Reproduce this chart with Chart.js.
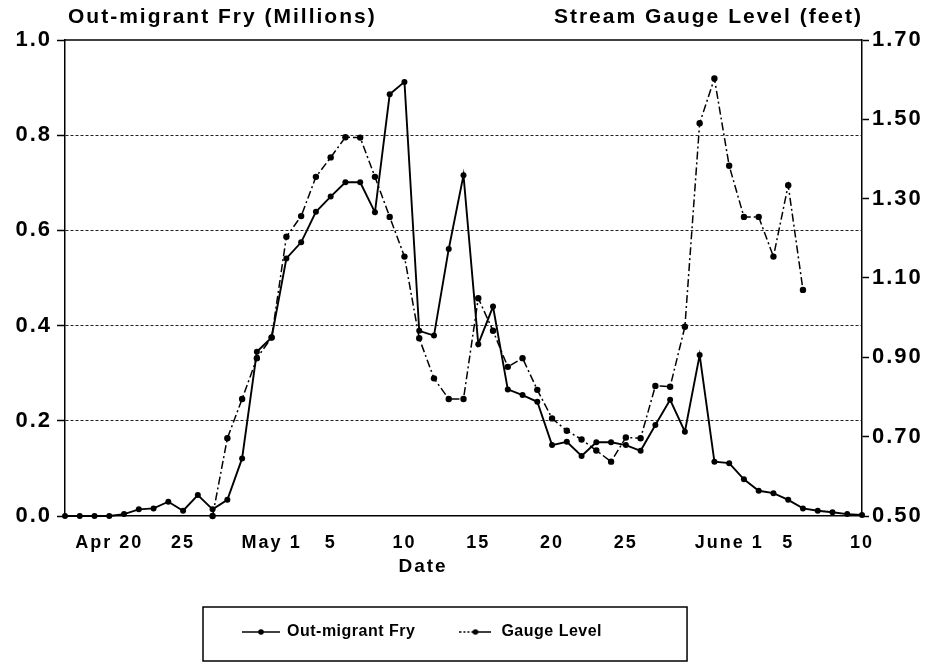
<!DOCTYPE html>
<html lang="en">
<head>
<meta charset="UTF-8">
<title>Out-migrant Fry and Stream Gauge Level</title>
<script src="https://cdn.jsdelivr.net/npm/chart.js@4"></script>
<style>
    html, body { margin: 0; padding: 0; background: #fff; }
</style>
</head>
<body>
<canvas id="grafico" width="939" height="664"></canvas>
<script>
// one point per day, Apr 17 to June 10
const dias = [
    'Apr 17', 'Apr 18', 'Apr 19', 'Apr 20', 'Apr 21', 'Apr 22', 'Apr 23', 'Apr 24', 'Apr 25', 'Apr 26',
    'Apr 27', 'Apr 28', 'Apr 29', 'Apr 30', 'May 1', 'May 2', 'May 3', 'May 4', 'May 5', 'May 6',
    'May 7', 'May 8', 'May 9', 'May 10', 'May 11', 'May 12', 'May 13', 'May 14', 'May 15', 'May 16',
    'May 17', 'May 18', 'May 19', 'May 20', 'May 21', 'May 22', 'May 23', 'May 24', 'May 25', 'May 26',
    'May 27', 'May 28', 'May 29', 'May 30', 'May 31', 'June 1', 'June 2', 'June 3', 'June 4', 'June 5',
    'June 6', 'June 7', 'June 8', 'June 9', 'June 10'
];

// which days get a label on the axis, and what it says
const rotulosDatas = ['Apr 20', 'Apr 25', 'May 1', 'May 5', 'May 10', 'May 15', 'May 20', 'May 25', 'June 1', 'June 5', 'June 10'];
const rotulosTexto = ['Apr 20', '25', 'May 1', '5', '10', '15', '20', '25', 'June 1', '5', '10'];

// out-migrant fry (millions)
const alevinos = [
    0, 0, 0, 0, 0.004, 0.014, 0.016, 0.030, 0.011, 0.044,
    0.014, 0.034, 0.121, 0.345, 0.375, 0.541, 0.575, 0.639, 0.671, 0.701,
    0.701, 0.638, 0.886, 0.912, 0.389, 0.379, 0.561, 0.716, 0.361, 0.440,
    0.266, 0.254, 0.240, 0.149, 0.156, 0.126, 0.155, 0.155, 0.149, 0.137,
    0.191, 0.244, 0.177, 0.338, 0.114, 0.111, 0.077, 0.053, 0.048, 0.034,
    0.016, 0.011, 0.008, 0.004, 0.002
];

// stream gauge level (feet), no readings before Apr 27 or after June 6
const nivel = [
    null, null, null, null, null, null, null, null, null, null,
    0.50, 0.696, 0.795, 0.898, 0.95, 1.204, 1.256, 1.355, 1.404, 1.455,
    1.454, 1.355, 1.254, 1.154, 0.948, 0.847, 0.795, 0.795, 1.049, 0.967,
    0.876, 0.898, 0.818, 0.746, 0.715, 0.693, 0.665, 0.637, 0.698, 0.696,
    0.828, 0.826, 0.977, 1.490, 1.603, 1.383, 1.254, 1.254, 1.154, 1.334,
    1.070, null, null, null, null
];

const fonte = '"Liberation Sans", Arial, sans-serif';
Chart.defaults.font.family = fonte;
Chart.defaults.font.weight = 'bold';
Chart.defaults.color = '#000';

// little line+dot samples for the legend
function amostra(tracejado, largura) {
    const c = document.createElement('canvas');
    c.width = largura; c.height = 8;
    const g = c.getContext('2d');
    g.strokeStyle = '#000';
    g.lineWidth = 1.6;
    g.setLineDash(tracejado);
    g.beginPath(); g.moveTo(0, 4); g.lineTo(largura, 4); g.stroke();
    g.setLineDash([]);
    g.fillStyle = '#000';
    g.beginPath(); g.arc(largura / 2, 4, 2.8, 0, Math.PI * 2); g.fill();
    return c;
}
const amostras = [amostra([], 38), amostra([2, 2, 2, 2, 2, 2, 30], 32)];

// titles, top frame line, legend box
const moldura = {
    id: 'moldura',
    afterInit(chart) {
        // legend text is set tighter than the axis text
        const lg = chart.legend;
        ['fit', 'draw'].forEach(nome => {
            const orig = lg[nome].bind(lg);
            lg[nome] = function (...args) {
                const ctx = chart.ctx;
                const antes = ctx.letterSpacing;
                ctx.letterSpacing = '0.5px';
                const r = orig(...args);
                ctx.letterSpacing = antes;
                return r;
            };
        });
    },
    beforeLayout(chart) { chart.ctx.letterSpacing = '2px'; },
    beforeDraw(chart) { chart.ctx.letterSpacing = '2px'; },
    afterLayout(chart) {
        const lg = chart.legend;
        const pad = lg.options.labels.padding;
        const x0 = (lg.left + pad + lg.right - lg.lineWidths[0]) / 2;
        const dx = 243 - x0;
        lg.left += dx; lg.right += dx;
        const dy = 624 - (lg.top + pad);
        lg.top += dy; lg.bottom += dy;
    },
    beforeDatasetsDraw(chart) {
        const { ctx, chartArea: a } = chart;
        ctx.save();
        ctx.strokeStyle = '#000';
        ctx.lineWidth = 1.5;
        ctx.beginPath(); ctx.moveTo(a.left, a.top); ctx.lineTo(a.right, a.top); ctx.stroke();
        ctx.restore();
    },
    afterDraw(chart) {
        const ctx = chart.ctx;
        ctx.save();
        ctx.fillStyle = '#000';
        ctx.textBaseline = 'middle';
        ctx.letterSpacing = '2px';
        ctx.font = 'bold 21px ' + fonte;
        ctx.textAlign = 'left';
        ctx.fillText('Out-migrant Fry (Millions)', 68, 17);
        ctx.textAlign = 'right';
        ctx.fillText('Stream Gauge Level (feet)', 863, 17);
        ctx.font = 'bold 19px ' + fonte;
        ctx.textAlign = 'center';
        ctx.fillText('Date', 423, 567);

        const hb = chart.legend.legendHitBoxes;
        const l = hb[0].left - 40;
        const r = hb[1].left + hb[1].width + 85;
        ctx.strokeStyle = '#000';
        ctx.lineWidth = 1.5;
        ctx.strokeRect(l, 607, r - l, 54);
        ctx.restore();
    }
};

new Chart(document.getElementById('grafico'), {
    type: 'line',
    data: {
        labels: dias,
        datasets: [{
            label: 'Out-migrant Fry',
            data: alevinos,
            yAxisID: 'y',
            borderColor: '#000',
            backgroundColor: '#000',
            borderWidth: 1.9,
            pointRadius: 3,
            pointBorderWidth: 0,
            pointBackgroundColor: '#000',
            clip: false
        }, {
            label: 'Gauge Level',
            data: nivel,
            yAxisID: 'y2',
            borderColor: '#000',
            backgroundColor: '#000',
            borderWidth: 1.5,
            borderDash: [8, 3, 2, 3],
            pointRadius: 3.2,
            pointBorderWidth: 0,
            pointBackgroundColor: '#000',
            spanGaps: false,
            clip: false
        }]
    },
    options: {
        responsive: false,
        animation: false,
        layout: { padding: { top: 40, left: 0, right: 0, bottom: 0 } },
        plugins: {
            tooltip: { enabled: false },
            legend: {
                position: 'bottom',
                labels: {
                    usePointStyle: true,
                    pointStyleWidth: 36,
                    padding: 42,
                    font: { size: 16, weight: 'bold' },
                    generateLabels(chart) {
                        const itens = Chart.defaults.plugins.legend.labels.generateLabels(chart);
                        itens.forEach((it, i) => { it.pointStyle = amostras[i]; });
                        return itens;
                    }
                }
            }
        },
        scales: {
            x: {
                afterFit: s => { s.height = 664 - 516 - s.chart.legend.height; },
                grid: { drawOnChartArea: false, drawTicks: false },
                border: { color: '#000', width: 1.5 },
                ticks: {
                    autoSkip: false,
                    maxRotation: 0,
                    padding: 16,
                    font: { size: 18 },
                    callback: (v, i) => {
                        const k = rotulosDatas.indexOf(dias[i]);
                        return k >= 0 ? rotulosTexto[k] : '';
                    }
                }
            },
            y: {
                position: 'left',
                min: 0,
                max: 1,
                afterFit: s => { s.width = 65; },
                border: { color: '#000', width: 1.5, dash: [3, 2] },
                grid: {
                    color: c => (c.tick && c.tick.value > 0.01 && c.tick.value < 0.99) ? '#222' : 'rgba(0,0,0,0)',
                    lineWidth: 1,
                    tickColor: '#000',
                    tickWidth: 1.5,
                    tickLength: 8,
                    tickBorderDash: []
                },
                ticks: { stepSize: 0.2, padding: 5, font: { size: 22 }, callback: v => v.toFixed(1) }
            },
            y2: {
                position: 'right',
                min: 0.5,
                max: 1.7,
                afterFit: s => { s.width = 77; },
                border: { color: '#000', width: 1.5 },
                grid: { drawOnChartArea: false, tickColor: '#000', tickWidth: 1.5, tickLength: 7 },
                ticks: { stepSize: 0.2, padding: 3, font: { size: 22 }, callback: v => v.toFixed(2) }
            }
        }
    },
    plugins: [moldura]
});
</script>
</body>
</html>
